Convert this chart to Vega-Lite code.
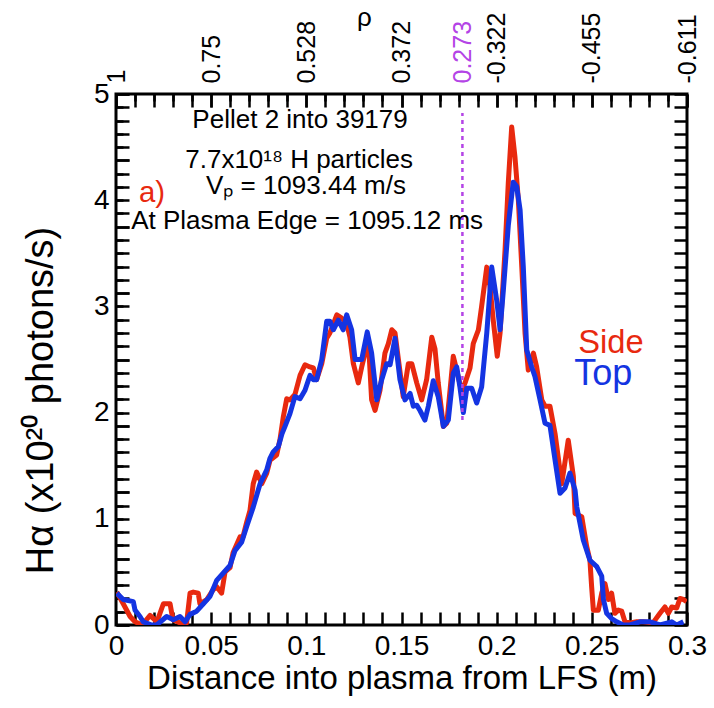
{
  "$schema": "https://vega.github.io/schema/vega-lite/v6.json",
  "width": 571,
  "height": 531,
  "autosize": {"type": "none"},
  "padding": {"left": 116, "top": 94, "right": 27, "bottom": 83},
  "background": "white",
  "config": {
    "font": "Liberation Sans",
    "view": {"stroke": "black", "strokeWidth": 3},
    "axis": {"domain": false, "grid": true, "gridColor": "black", "gridWidth": 2.5, "gridOpacity": 1, "ticks": true, "tickColor": "black", "tickWidth": 2.5, "tickSize": -13, "labelColor": "black", "titleColor": "black", "titleFontWeight": "normal", "labelOverlap": false, "labelFlush": false, "labelFont": "Liberation Sans", "titleFont": "Liberation Sans"}
  },
  "datasets": {
    "lines": [
      {"series":"Side","x":0.0004,"y":0.31},{"series":"Side","x":0.0038,"y":0.2},{"series":"Side","x":0.0074,"y":0.08},{"series":"Side","x":0.0100,"y":0.03},{"series":"Side","x":0.0137,"y":0.0},{"series":"Side","x":0.0179,"y":0.09},{"series":"Side","x":0.0215,"y":0.03},{"series":"Side","x":0.0249,"y":0.2},{"series":"Side","x":0.0284,"y":0.2},{"series":"Side","x":0.0299,"y":0.05},{"series":"Side","x":0.0336,"y":0.02},{"series":"Side","x":0.0371,"y":0.02},{"series":"Side","x":0.0389,"y":0.3},{"series":"Side","x":0.0406,"y":0.31},{"series":"Side","x":0.0432,"y":0.3},{"series":"Side","x":0.0441,"y":0.2},{"series":"Side","x":0.0477,"y":0.24},{"series":"Side","x":0.0510,"y":0.33},{"series":"Side","x":0.0529,"y":0.36},{"series":"Side","x":0.0555,"y":0.3},{"series":"Side","x":0.0573,"y":0.5},{"series":"Side","x":0.0599,"y":0.54},{"series":"Side","x":0.0615,"y":0.68},{"series":"Side","x":0.0652,"y":0.83},{"series":"Side","x":0.0667,"y":0.83},{"series":"Side","x":0.0687,"y":0.97},{"series":"Side","x":0.0704,"y":1.08},{"series":"Side","x":0.0721,"y":1.33},{"series":"Side","x":0.0739,"y":1.44},{"series":"Side","x":0.0766,"y":1.33},{"series":"Side","x":0.0792,"y":1.43},{"series":"Side","x":0.0809,"y":1.55},{"series":"Side","x":0.0844,"y":1.6},{"series":"Side","x":0.0862,"y":1.75},{"series":"Side","x":0.0879,"y":1.96},{"series":"Side","x":0.0897,"y":2.13},{"series":"Side","x":0.0914,"y":2.12},{"series":"Side","x":0.0940,"y":2.17},{"series":"Side","x":0.0967,"y":2.35},{"series":"Side","x":0.0993,"y":2.45},{"series":"Side","x":0.1019,"y":2.43},{"series":"Side","x":0.1037,"y":2.42},{"series":"Side","x":0.1054,"y":2.31},{"series":"Side","x":0.1081,"y":2.46},{"series":"Side","x":0.1107,"y":2.7},{"series":"Side","x":0.1124,"y":2.75},{"series":"Side","x":0.1160,"y":2.92},{"series":"Side","x":0.1186,"y":2.89},{"series":"Side","x":0.1212,"y":2.84},{"series":"Side","x":0.1229,"y":2.71},{"series":"Side","x":0.1247,"y":2.46},{"series":"Side","x":0.1273,"y":2.28},{"series":"Side","x":0.1291,"y":2.43},{"series":"Side","x":0.1317,"y":2.62},{"series":"Side","x":0.1326,"y":2.68},{"series":"Side","x":0.1343,"y":2.12},{"series":"Side","x":0.1361,"y":2.02},{"series":"Side","x":0.1387,"y":2.21},{"series":"Side","x":0.1413,"y":2.56},{"series":"Side","x":0.1431,"y":2.65},{"series":"Side","x":0.1449,"y":2.78},{"series":"Side","x":0.1466,"y":2.75},{"series":"Side","x":0.1483,"y":2.51},{"series":"Side","x":0.1509,"y":2.15},{"series":"Side","x":0.1536,"y":2.46},{"series":"Side","x":0.1554,"y":2.46},{"series":"Side","x":0.1580,"y":2.28},{"series":"Side","x":0.1606,"y":2.12},{"series":"Side","x":0.1632,"y":2.31},{"series":"Side","x":0.1659,"y":2.71},{"series":"Side","x":0.1676,"y":2.6},{"series":"Side","x":0.1693,"y":2.28},{"series":"Side","x":0.1720,"y":1.87},{"series":"Side","x":0.1738,"y":1.9},{"series":"Side","x":0.1755,"y":2.21},{"series":"Side","x":0.1772,"y":2.53},{"series":"Side","x":0.1790,"y":2.4},{"series":"Side","x":0.1816,"y":2.2},{"series":"Side","x":0.1834,"y":2.28},{"series":"Side","x":0.1860,"y":2.42},{"series":"Side","x":0.1877,"y":2.65},{"series":"Side","x":0.1904,"y":2.78},{"series":"Side","x":0.1921,"y":3.0},{"series":"Side","x":0.1948,"y":3.37},{"series":"Side","x":0.1965,"y":3.19},{"series":"Side","x":0.1982,"y":2.87},{"series":"Side","x":0.2003,"y":2.53},{"series":"Side","x":0.2018,"y":2.75},{"series":"Side","x":0.2044,"y":3.53},{"series":"Side","x":0.2061,"y":4.16},{"series":"Side","x":0.2079,"y":4.69},{"series":"Side","x":0.2096,"y":4.41},{"series":"Side","x":0.2114,"y":4.0},{"series":"Side","x":0.2132,"y":3.37},{"series":"Side","x":0.2149,"y":2.75},{"series":"Side","x":0.2166,"y":2.4},{"series":"Side","x":0.2193,"y":2.56},{"series":"Side","x":0.2210,"y":2.43},{"series":"Side","x":0.2237,"y":2.12},{"series":"Side","x":0.2254,"y":2.06},{"series":"Side","x":0.2280,"y":2.06},{"series":"Side","x":0.2307,"y":1.8},{"series":"Side","x":0.2342,"y":1.33},{"series":"Side","x":0.2376,"y":1.74},{"series":"Side","x":0.2403,"y":1.4},{"series":"Side","x":0.2412,"y":1.05},{"series":"Side","x":0.2447,"y":1.02},{"series":"Side","x":0.2473,"y":0.74},{"series":"Side","x":0.2490,"y":0.61},{"series":"Side","x":0.2499,"y":0.36},{"series":"Side","x":0.2508,"y":0.14},{"series":"Side","x":0.2534,"y":0.14},{"series":"Side","x":0.2552,"y":0.3},{"series":"Side","x":0.2569,"y":0.39},{"series":"Side","x":0.2587,"y":0.24},{"series":"Side","x":0.2604,"y":0.3},{"series":"Side","x":0.2621,"y":0.11},{"series":"Side","x":0.2639,"y":0.14},{"series":"Side","x":0.2657,"y":0.13},{"series":"Side","x":0.2674,"y":0.03},{"series":"Side","x":0.2701,"y":0.02},{"series":"Side","x":0.2736,"y":0.03},{"series":"Side","x":0.2770,"y":0.03},{"series":"Side","x":0.2821,"y":0.02},{"series":"Side","x":0.2858,"y":0.11},{"series":"Side","x":0.2884,"y":0.17},{"series":"Side","x":0.2902,"y":0.11},{"series":"Side","x":0.2920,"y":0.17},{"series":"Side","x":0.2946,"y":0.16},{"series":"Side","x":0.2963,"y":0.25},{"series":"Side","x":0.2981,"y":0.24},{"series":"Side","x":0.2998,"y":0.22},
      {"series":"Top","x":0.0004,"y":0.3},{"series":"Top","x":0.0038,"y":0.24},{"series":"Top","x":0.0091,"y":0.22},{"series":"Top","x":0.0100,"y":0.14},{"series":"Top","x":0.0126,"y":0.08},{"series":"Top","x":0.0143,"y":0.03},{"series":"Top","x":0.0188,"y":0.0},{"series":"Top","x":0.0214,"y":0.0},{"series":"Top","x":0.0266,"y":0.08},{"series":"Top","x":0.0301,"y":0.05},{"series":"Top","x":0.0336,"y":0.08},{"series":"Top","x":0.0363,"y":0.03},{"series":"Top","x":0.0389,"y":0.1},{"series":"Top","x":0.0424,"y":0.13},{"series":"Top","x":0.0459,"y":0.2},{"series":"Top","x":0.0494,"y":0.27},{"series":"Top","x":0.0529,"y":0.42},{"series":"Top","x":0.0564,"y":0.49},{"series":"Top","x":0.0599,"y":0.56},{"series":"Top","x":0.0625,"y":0.7},{"series":"Top","x":0.0660,"y":0.78},{"series":"Top","x":0.0687,"y":0.93},{"series":"Top","x":0.0721,"y":1.11},{"series":"Top","x":0.0757,"y":1.33},{"series":"Top","x":0.0792,"y":1.46},{"series":"Top","x":0.0809,"y":1.57},{"series":"Top","x":0.0826,"y":1.63},{"series":"Top","x":0.0853,"y":1.68},{"series":"Top","x":0.0872,"y":1.8},{"series":"Top","x":0.0888,"y":1.87},{"series":"Top","x":0.0914,"y":1.99},{"series":"Top","x":0.0940,"y":2.15},{"series":"Top","x":0.0967,"y":2.13},{"series":"Top","x":0.0993,"y":2.21},{"series":"Top","x":0.1019,"y":2.35},{"series":"Top","x":0.1037,"y":2.31},{"series":"Top","x":0.1054,"y":2.31},{"series":"Top","x":0.1081,"y":2.5},{"series":"Top","x":0.1107,"y":2.86},{"series":"Top","x":0.1124,"y":2.86},{"series":"Top","x":0.1142,"y":2.78},{"series":"Top","x":0.1168,"y":2.87},{"series":"Top","x":0.1194,"y":2.78},{"series":"Top","x":0.1212,"y":2.92},{"series":"Top","x":0.1238,"y":2.78},{"series":"Top","x":0.1256,"y":2.5},{"series":"Top","x":0.1291,"y":2.5},{"series":"Top","x":0.1320,"y":2.76},{"series":"Top","x":0.1343,"y":2.56},{"series":"Top","x":0.1370,"y":2.12},{"series":"Top","x":0.1396,"y":2.31},{"series":"Top","x":0.1422,"y":2.46},{"series":"Top","x":0.1440,"y":2.45},{"series":"Top","x":0.1466,"y":2.7},{"series":"Top","x":0.1492,"y":2.31},{"series":"Top","x":0.1518,"y":2.12},{"series":"Top","x":0.1545,"y":2.18},{"series":"Top","x":0.1562,"y":2.06},{"series":"Top","x":0.1580,"y":2.07},{"series":"Top","x":0.1597,"y":2.02},{"series":"Top","x":0.1623,"y":1.93},{"series":"Top","x":0.1641,"y":2.06},{"series":"Top","x":0.1667,"y":2.3},{"series":"Top","x":0.1693,"y":2.15},{"series":"Top","x":0.1720,"y":1.87},{"series":"Top","x":0.1746,"y":1.93},{"series":"Top","x":0.1772,"y":2.37},{"series":"Top","x":0.1790,"y":2.43},{"series":"Top","x":0.1807,"y":2.24},{"series":"Top","x":0.1825,"y":2.0},{"series":"Top","x":0.1843,"y":2.23},{"series":"Top","x":0.1869,"y":2.23},{"series":"Top","x":0.1895,"y":2.09},{"series":"Top","x":0.1921,"y":2.24},{"series":"Top","x":0.1948,"y":2.75},{"series":"Top","x":0.1974,"y":3.37},{"series":"Top","x":0.2000,"y":3.06},{"series":"Top","x":0.2018,"y":2.78},{"series":"Top","x":0.2035,"y":3.15},{"series":"Top","x":0.2061,"y":3.76},{"series":"Top","x":0.2087,"y":4.17},{"series":"Top","x":0.2105,"y":4.13},{"series":"Top","x":0.2123,"y":3.91},{"series":"Top","x":0.2140,"y":3.37},{"series":"Top","x":0.2158,"y":2.59},{"series":"Top","x":0.2184,"y":2.43},{"series":"Top","x":0.2201,"y":2.34},{"series":"Top","x":0.2228,"y":2.12},{"series":"Top","x":0.2254,"y":1.9},{"series":"Top","x":0.2280,"y":1.88},{"series":"Top","x":0.2307,"y":1.55},{"series":"Top","x":0.2333,"y":1.24},{"series":"Top","x":0.2359,"y":1.29},{"series":"Top","x":0.2385,"y":1.43},{"series":"Top","x":0.2412,"y":1.27},{"series":"Top","x":0.2421,"y":1.11},{"series":"Top","x":0.2455,"y":0.8},{"series":"Top","x":0.2490,"y":0.61},{"series":"Top","x":0.2526,"y":0.55},{"series":"Top","x":0.2552,"y":0.46},{"series":"Top","x":0.2561,"y":0.24},{"series":"Top","x":0.2578,"y":0.11},{"series":"Top","x":0.2604,"y":0.06},{"series":"Top","x":0.2631,"y":0.03},{"series":"Top","x":0.2664,"y":0.0},{"series":"Top","x":0.2701,"y":0.0},{"series":"Top","x":0.2753,"y":0.03},{"series":"Top","x":0.2806,"y":0.03},{"series":"Top","x":0.2858,"y":0.0},{"series":"Top","x":0.2920,"y":0.03},{"series":"Top","x":0.2946,"y":0.0},{"series":"Top","x":0.2981,"y":0.03}
    ],
    "marker": [{"x": 0.182, "y": 1.93, "y2": 4.82}],
    "annot": [
      {"x": 0.0967, "y": 4.755, "text": "Pellet 2 into 39179", "kind": "note"},
      {"x": 0.0962, "y": 4.38, "text": "7.7x10¹⁸ H particles", "kind": "note"},
      {"x": 0.0998, "y": 4.13, "text": "Vₚ = 1093.44 m/s", "kind": "note"},
      {"x": 0.1004, "y": 3.80, "text": "At Plasma Edge = 1095.12 ms", "kind": "note"},
      {"x": 0.0189, "y": 4.07, "text": "a)", "kind": "panel"},
      {"x": 0.2600, "y": 2.66, "text": "Side", "kind": "Side"},
      {"x": 0.2560, "y": 2.36, "text": "Top", "kind": "Top"}
    ]
  },
  "layer": [
    {
      "data": {"name": "lines"},
      "mark": {"type": "line", "strokeWidth": 5, "clip": true, "strokeJoin": "round"},
      "encoding": {
        "x": {"field": "x", "type": "quantitative", "scale": {"domain": [0, 0.3], "nice": false, "zero": false},
          "axis": {"orient": "bottom",
            "values": [0,0.01,0.02,0.03,0.04,0.05,0.06,0.07,0.08,0.09,0.1,0.11,0.12,0.13,0.14,0.15,0.16,0.17,0.18,0.19,0.2,0.21,0.22,0.23,0.24,0.25,0.26,0.27,0.28,0.29,0.3],
            "labelExpr": "abs(datum.value*20 - round(datum.value*20)) < 0.001 ? format(datum.value, '~g') : ''",
            "gridDash": {"condition": {"test": "abs(datum.value*20 - round(datum.value*20)) < 0.001", "value": [13, 2000]}, "value": [7, 2000]},
            "labelFontSize": 28, "labelPadding": 20,
            "title": "Distance into plasma from LFS (m)", "titleFontSize": 33, "titlePadding": 2}},
        "y": {"field": "y", "type": "quantitative", "scale": {"domain": [0, 5], "nice": false},
          "axis": {"orient": "left",
            "values": [0,0.125,0.25,0.375,0.5,0.625,0.75,0.875,1,1.125,1.25,1.375,1.5,1.625,1.75,1.875,2,2.125,2.25,2.375,2.5,2.625,2.75,2.875,3,3.125,3.25,3.375,3.5,3.625,3.75,3.875,4,4.125,4.25,4.375,4.5,4.625,4.75,4.875,5],
            "labelExpr": "abs(datum.value - round(datum.value)) < 0.001 ? format(datum.value, 'd') : ''",
            "gridDash": {"condition": {"test": "abs(datum.value/0.625 - round(datum.value/0.625)) < 0.001", "value": [13, 2000]}, "value": [7, 2000]},
            "labelFontSize": 28, "labelPadding": 20,
            "title": "Hα (x10²⁰ photons/s)", "titleFontSize": 38, "titleX": -75, "titleY": 306, "titleAlign": "center", "titleBaseline": "middle", "titleAngle": -90}},
        "color": {"field": "series", "type": "nominal", "scale": {"domain": ["Side", "Top"], "range": ["#e8290f", "#1434e2"]}, "legend": null}
      }
    },
    {
      "data": {"name": "marker"},
      "mark": {"type": "rule", "color": "#b444e6", "strokeWidth": 2.5, "strokeDash": [4, 4]},
      "encoding": {
        "x": {"field": "x", "type": "quantitative", "scale": {"domain": [0, 0.3], "nice": false, "zero": false},
          "axis": {"orient": "top",
            "values": [0,0.01,0.02,0.03,0.04,0.05,0.06,0.07,0.08,0.09,0.1,0.11,0.12,0.13,0.14,0.15,0.16,0.17,0.18,0.182,0.19,0.2,0.21,0.22,0.23,0.24,0.25,0.26,0.27,0.28,0.29,0.3],
            "labelExpr": "abs(datum.value-0.182)<0.0005 ? '0.273' : abs(datum.value)<0.0005 ? '1' : abs(datum.value-0.05)<0.0005 ? '0.75' : abs(datum.value-0.1)<0.0005 ? '0.528' : abs(datum.value-0.15)<0.0005 ? '0.372' : abs(datum.value-0.2)<0.0005 ? '-0.322' : abs(datum.value-0.25)<0.0005 ? '-0.455' : abs(datum.value-0.3)<0.0005 ? '-0.611' : ''",
            "labelColor": {"condition": {"test": "abs(datum.value-0.182)<0.0005", "value": "#b444e6"}, "value": "black"},
            "tickOpacity": {"condition": {"test": "abs(datum.value-0.182)<0.0005", "value": 0}, "value": 1},
            "gridOpacity": {"condition": {"test": "abs(datum.value-0.182)<0.0005", "value": 0}, "value": 1},
            "gridDash": {"condition": {"test": "abs(datum.value*20 - round(datum.value*20)) < 0.001", "value": [13, 2000]}, "value": [7, 2000]},
            "labelAngle": -90, "labelFontSize": 25, "labelPadding": 24, "labelAlign": "left", "labelBaseline": "middle",
            "title": "ρ", "titleFontSize": 26, "titleX": 248, "titleY": -64}},
        "y": {"field": "y", "type": "quantitative", "scale": {"domain": [0, 5], "nice": false},
          "axis": {"orient": "right",
            "values": [0,0.125,0.25,0.375,0.5,0.625,0.75,0.875,1,1.125,1.25,1.375,1.5,1.625,1.75,1.875,2,2.125,2.25,2.375,2.5,2.625,2.75,2.875,3,3.125,3.25,3.375,3.5,3.625,3.75,3.875,4,4.125,4.25,4.375,4.5,4.625,4.75,4.875,5],
            "labels": false, "title": null,
            "gridDash": {"condition": {"test": "abs(datum.value/0.625 - round(datum.value/0.625)) < 0.001", "value": [13, 2000]}, "value": [7, 2000]}}},
        "y2": {"field": "y2"}
      }
    },
    {
      "data": {"name": "annot"},
      "mark": {"type": "text", "align": "center", "baseline": "middle", "font": "Liberation Sans"},
      "encoding": {
        "x": {"field": "x", "type": "quantitative", "axis": null},
        "y": {"field": "y", "type": "quantitative", "axis": null},
        "text": {"field": "text"},
        "size": {"field": "kind", "type": "nominal", "scale": {"domain": ["note", "panel", "Side", "Top"], "range": [26, 36, 31, 31]}, "legend": null},
        "color": {"field": "kind", "type": "nominal", "scale": {"domain": ["note", "panel", "Side", "Top"], "range": ["black", "#e8290f", "#e8290f", "#1434e2"]}, "legend": null}
      }
    }
  ],
  "resolve": {"axis": {"x": "independent", "y": "independent"}, "scale": {"color": "independent", "size": "independent"}}
}
